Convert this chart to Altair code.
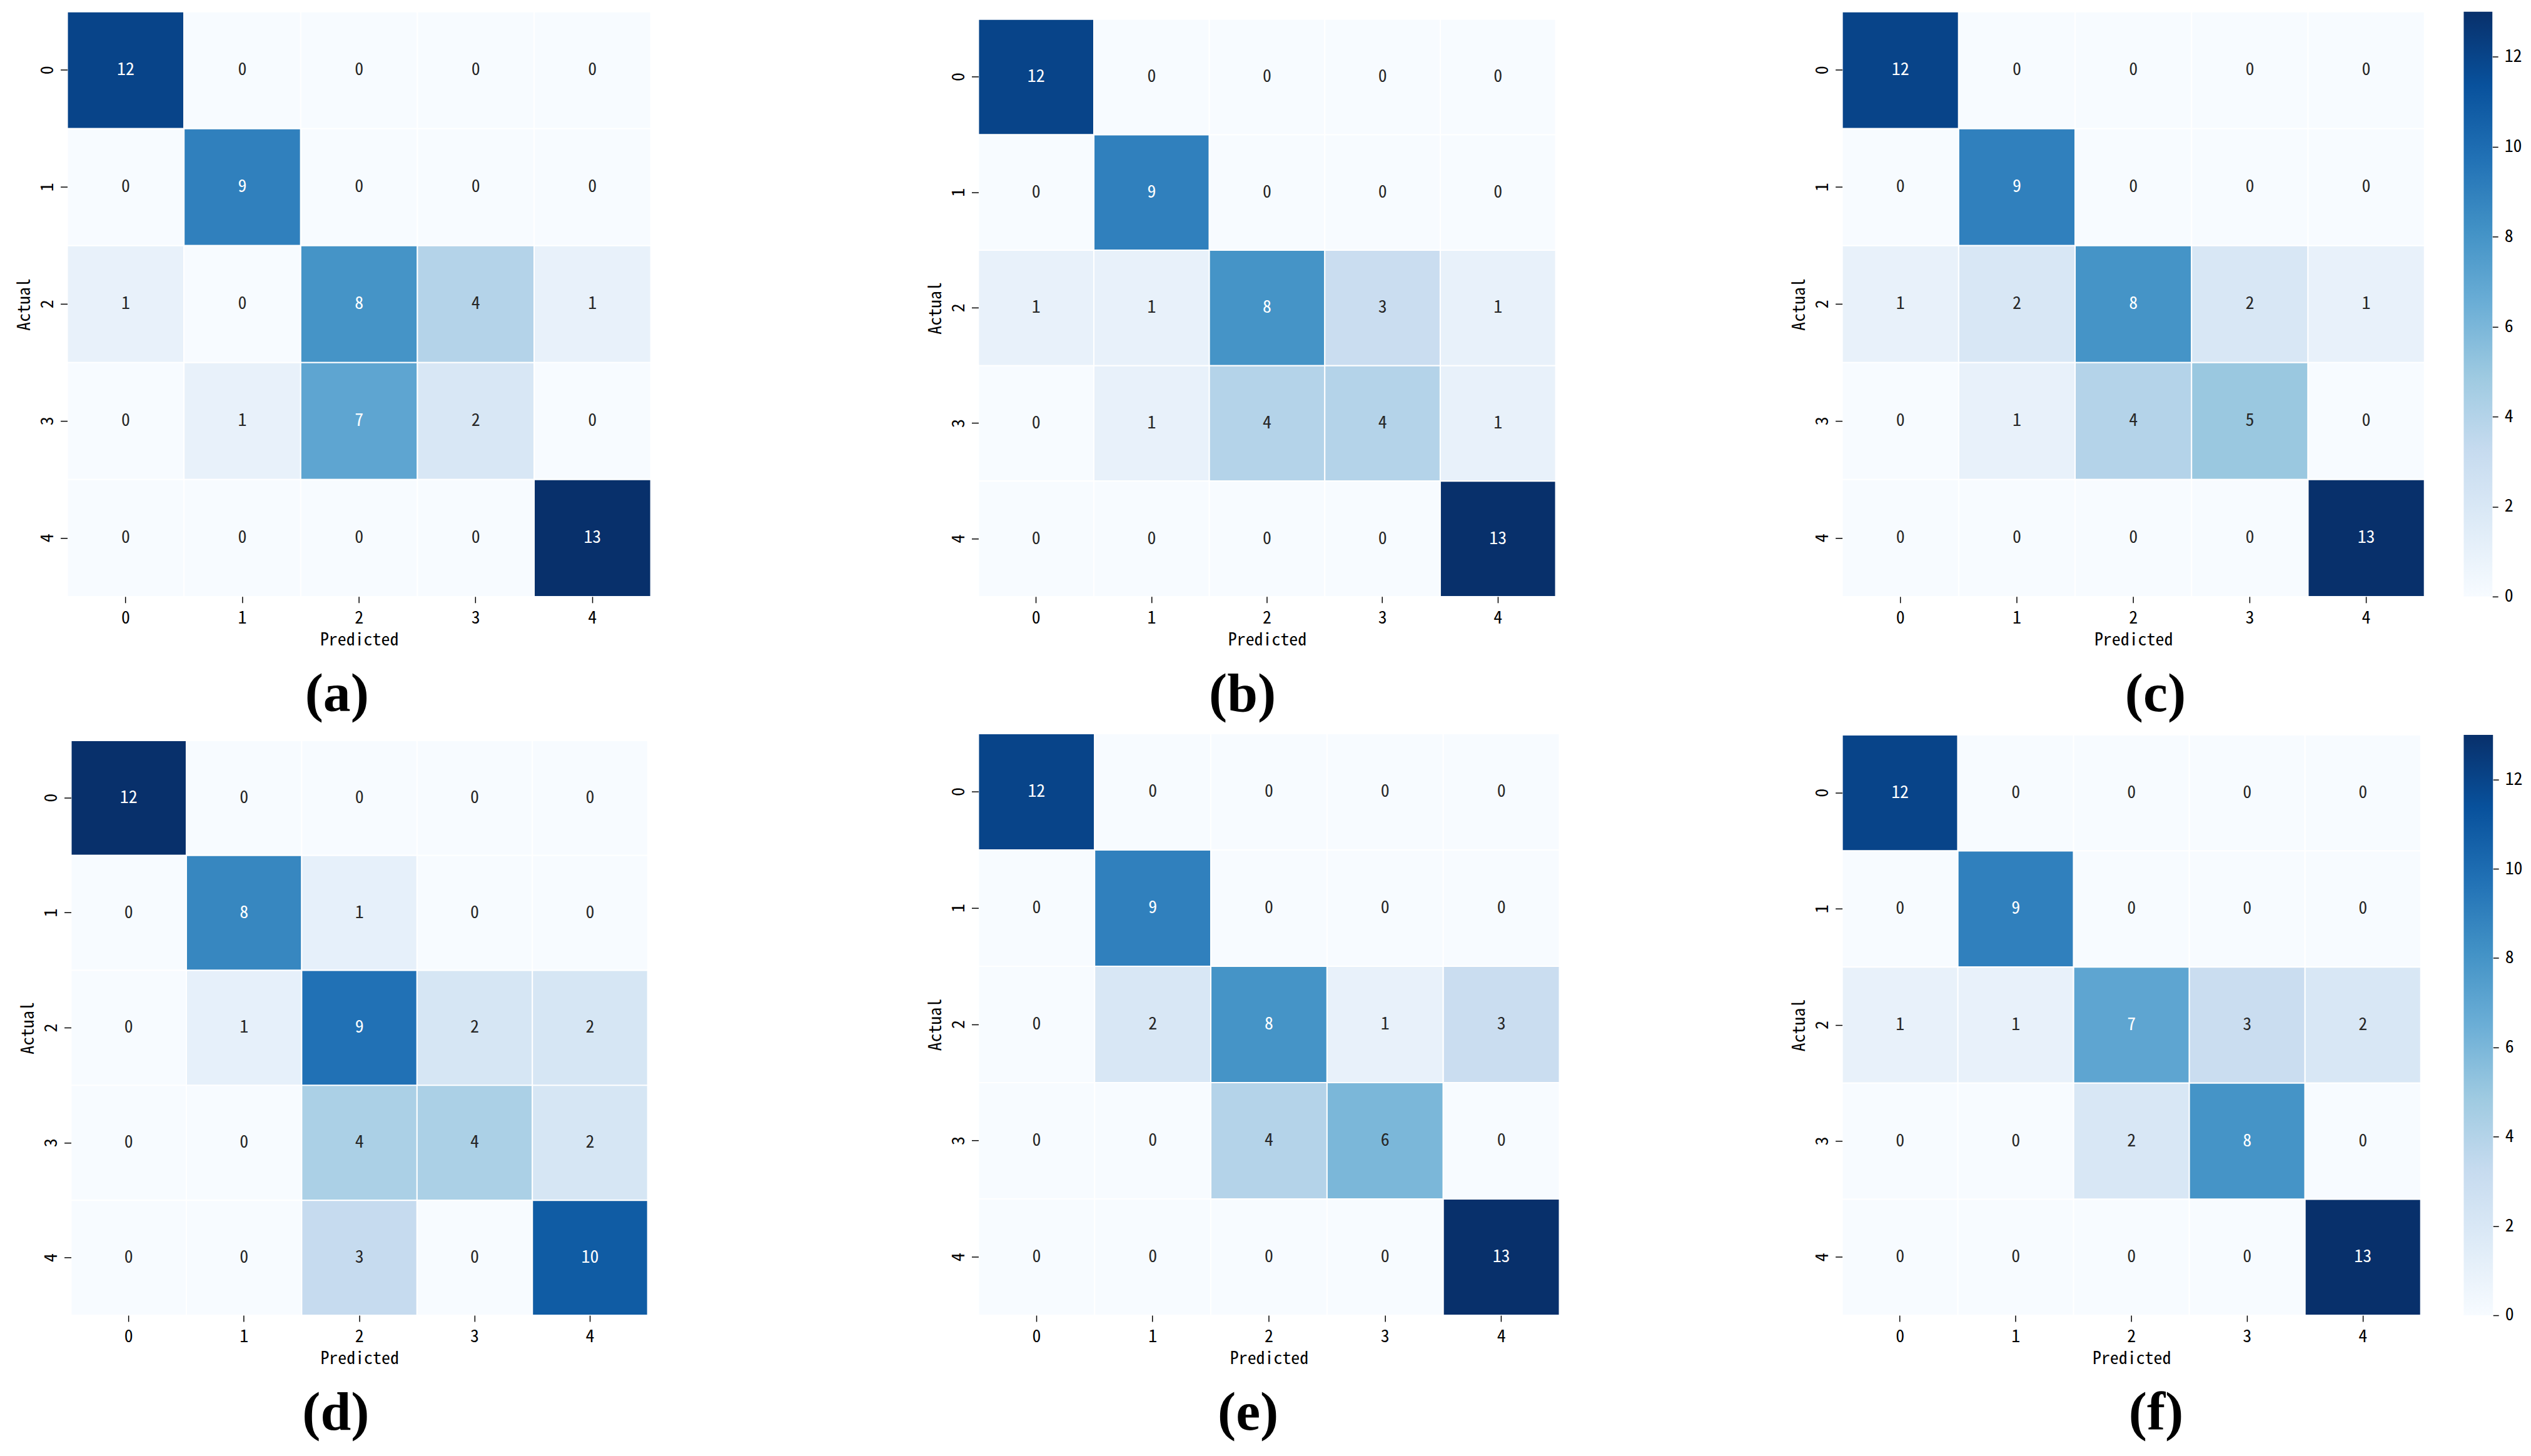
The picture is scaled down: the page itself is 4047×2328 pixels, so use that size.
import altair as alt
import pandas as pd

# ---------------- data ----------------
classes = ["0", "1", "2", "3", "4"]
panel_labels = ["(a)", "(b)", "(c)", "(d)", "(e)", "(f)"]

conf_a = [[12, 0, 0, 0, 0],
          [0, 9, 0, 0, 0],
          [1, 0, 8, 4, 1],
          [0, 1, 7, 2, 0],
          [0, 0, 0, 0, 13]]
conf_b = [[12, 0, 0, 0, 0],
          [0, 9, 0, 0, 0],
          [1, 1, 8, 3, 1],
          [0, 1, 4, 4, 1],
          [0, 0, 0, 0, 13]]
conf_c = [[12, 0, 0, 0, 0],
          [0, 9, 0, 0, 0],
          [1, 2, 8, 2, 1],
          [0, 1, 4, 5, 0],
          [0, 0, 0, 0, 13]]
conf_d = [[12, 0, 0, 0, 0],
          [0, 8, 1, 0, 0],
          [0, 1, 9, 2, 2],
          [0, 0, 4, 4, 2],
          [0, 0, 3, 0, 10]]
conf_e = [[12, 0, 0, 0, 0],
          [0, 9, 0, 0, 0],
          [0, 2, 8, 1, 3],
          [0, 0, 4, 6, 0],
          [0, 0, 0, 0, 13]]
conf_f = [[12, 0, 0, 0, 0],
          [0, 9, 0, 0, 0],
          [1, 1, 7, 3, 2],
          [0, 0, 2, 8, 0],
          [0, 0, 0, 0, 13]]

cbar_ticks = [0, 2, 4, 6, 8, 10, 12]
cbar_min = 0
cbar_max = 13

# matplotlib "Blues" anchor colours
blues = ["#f7fbff", "#deebf7", "#c6dbef", "#9ecae1", "#6baed6",
         "#4292c6", "#2171b5", "#08519c", "#08306b"]

# ---------------- styling / layout ----------------
FONT = "Noto Sans Mono CJK SC, Noto Sans CJK SC, sans-serif"
SERIF = "Liberation Serif, Times New Roman, serif"
FS = 28

# view sizes and heatmap extents inside each view (pixels)
layouts = [
    dict(w=1463, h=939, x0=0, x1=937, y0=0, y1=939, lx=433),   # a
    dict(w=1374, h=939, x0=0, x1=927, y0=12, y1=939, lx=424),  # b
    dict(w=998, h=939, x0=0, x1=935, y0=0, y1=939, lx=503),    # c
    dict(w=1452, h=934, x0=6, x1=932, y0=11, y1=934, lx=431),  # d
    dict(w=1387, h=934, x0=0, x1=933, y0=0, y1=934, lx=433),   # e
    dict(w=991, h=934, x0=0, x1=929, y0=2, y1=934, lx=504),    # f
]
cbar_layouts = [dict(w=46, h=939, y0=0), dict(w=47, h=934, y0=2)]


def heatmap(matrix, label, lay):
    rows = []
    for i, actual in enumerate(classes):
        for j, pred in enumerate(classes):
            rows.append({"actual": actual, "predicted": pred, "n": matrix[i][j]})
    df = pd.DataFrame(rows)
    vmax = max(max(r) for r in matrix)
    vmin = min(min(r) for r in matrix)
    dom = [vmin + (vmax - vmin) * k / (len(blues) - 1) for k in range(len(blues))]

    xs = alt.Scale(domain=classes, range=[lay["x0"], lay["x1"]],
                   paddingInner=0, paddingOuter=0)
    ys = alt.Scale(domain=classes, range=[lay["y0"], lay["y1"]],
                   paddingInner=0, paddingOuter=0)
    x_axis = alt.Axis(title="Predicted", labelAngle=0, labelFont=FONT,
                      labelFontSize=FS, labelColor="black", labelPadding=11,
                      tickSize=10, tickWidth=1.5, tickColor="black",
                      domain=False, grid=False,
                      titleFont=FONT, titleFontSize=FS, titleFontWeight="normal",
                      titleColor="black", titleX=(lay["x0"] + lay["x1"]) / 2,
                      titleY=78, titleBaseline="alphabetic", titleAlign="center",
                      titleAngle=0)
    y_axis = alt.Axis(title="Actual", labelAngle=270, labelAlign="center",
                      labelBaseline="alphabetic", labelFont=FONT,
                      labelFontSize=FS, labelColor="black", labelPadding=12,
                      tickSize=11, tickWidth=1.5, tickColor="black",
                      domain=False, grid=False, offset=-lay["x0"],
                      titleFont=FONT, titleFontSize=FS, titleFontWeight="normal",
                      titleColor="black", titleX=-60,
                      titleY=(lay["y0"] + lay["y1"]) / 2, titleAngle=270,
                      titleAlign="center", titleBaseline="alphabetic")

    base = alt.Chart(df).transform_joinaggregate(vmax="max(n)")
    rect = base.mark_rect(stroke="white", strokeWidth=2).encode(
        x=alt.X("predicted:N", scale=xs, axis=x_axis, sort=classes),
        y=alt.Y("actual:N", scale=ys, axis=y_axis, sort=classes),
        color=alt.Color("n:Q", scale=alt.Scale(domain=dom, range=blues,
                                               interpolate="rgb"),
                        legend=None),
    )
    text = base.mark_text(font=FONT, fontSize=FS, align="center",
                          baseline="middle").encode(
        x=alt.X("predicted:N", scale=xs, axis=x_axis, sort=classes),
        y=alt.Y("actual:N", scale=ys, axis=y_axis, sort=classes),
        text=alt.Text("n:Q"),
        color=alt.condition("datum.n / datum.vmax > 0.5",
                            alt.value("white"), alt.value("#262626")),
    )
    return alt.layer(rect, text).properties(
        width=lay["w"], height=lay["h"],
        title=alt.TitleParams(label, orient="bottom", anchor="start",
                              frame="group", align="center", dx=lay["lx"],
                              offset=30, font=SERIF, fontSize=88,
                              fontWeight="bold", color="black"),
    )


def colorbar(lay):
    df = pd.DataFrame({"lo": [cbar_min], "hi": [cbar_max]})
    n = len(blues)
    grad = alt.Gradient(
        gradient="linear",
        stops=[alt.GradientStop(color=c, offset=k / (n - 1)) for k, c in enumerate(blues)],
        x1=0, x2=0, y1=1, y2=0,
    )
    return alt.Chart(df).mark_rect(color=grad).encode(
        x=alt.value(0),
        x2=alt.value("width"),
        y=alt.Y("lo:Q", scale=alt.Scale(domain=[cbar_min, cbar_max],
                                        range=[lay["h"], lay["y0"]], nice=False),
                axis=alt.Axis(orient="right", values=cbar_ticks, title=None,
                              labelFont=FONT, labelFontSize=FS,
                              labelColor="black", labelPadding=10,
                              tickSize=9, tickWidth=1.5, tickColor="black",
                              domain=False, grid=False)),
        y2="hi:Q",
    ).properties(width=lay["w"], height=lay["h"])


mats = [conf_a, conf_b, conf_c, conf_d, conf_e, conf_f]
panels = [heatmap(m, lab, lay) for m, lab, lay in zip(mats, panel_labels, layouts)]

charts = panels[0:3] + [colorbar(cbar_layouts[0])] + panels[3:6] + [colorbar(cbar_layouts[1])]

chart = alt.concat(
    *charts, columns=4, spacing=alt.RowColnumber(row=220, column=0),
    bounds="flush", align="none",
).resolve_scale(
    color="independent", x="independent", y="independent"
).properties(
    padding={"left": 18, "top": 5, "right": 5, "bottom": 5},
    background="white",
).configure_view(stroke=None)

chart.save("out.html", embed_options={"renderer": "svg", "actions": False})
